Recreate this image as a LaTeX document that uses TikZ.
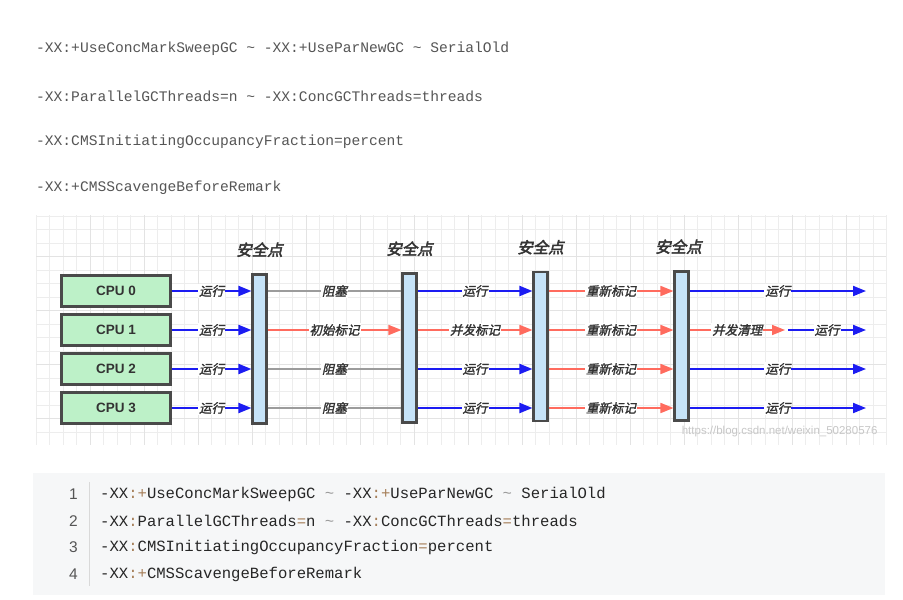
\documentclass[tikz,border=0pt]{standalone}
\usepackage{fontspec}
\setmainfont{Liberation Sans}
\setmonofont{Liberation Mono}
\newfontfamily\cjk[FakeSlant=0.22,FakeBold=1.8]{Noto Sans CJK SC}
\newfontfamily\cjkbold[FakeSlant=0.22,FakeBold=2.8]{Noto Sans CJK SC}
\usetikzlibrary{arrows.meta}
\usetikzlibrary{positioning}

\definecolor{runblue}{HTML}{1C1CF2}
\definecolor{markred}{HTML}{FF6B5E}
\definecolor{blockgray}{HTML}{9C9C9C}
\definecolor{cpugreen}{HTML}{BDF1C8}
\definecolor{barblue}{HTML}{C6E3F8}
\definecolor{edgegray}{HTML}{4A4A4A}
\definecolor{codebg}{HTML}{F6F7F8}
\definecolor{codeop}{HTML}{A67F59}
\definecolor{tildegray}{HTML}{999999}
\definecolor{optgray}{HTML}{555555}

\newcommand{\punc}[1]{\textcolor{codeop}{#1}}
\newcommand{\tld}{\textcolor{tildegray}{\textasciitilde}}

\tikzset{
  cpubox/.style={draw=edgegray,line width=2.3pt,fill=cpugreen,minimum width=109pt,
    minimum height=31pt,font=\bfseries\fontsize{13.5}{14}\selectfont,text=black!80},
  sptbar/.style={draw=edgegray,line width=2.1pt,fill=barblue,minimum width=14pt,
    minimum height=149pt,inner sep=0pt},
  spttitle/.style={font=\cjkbold\fontsize{15.5}{16}\selectfont,text=black!80},
  lbl/.style={font=\cjk\fontsize{12.5}{13}\selectfont,text=black!80,fill=white,inner sep=1pt},
  run/.style={->,runblue,line width=2pt},
  markline/.style={->,markred,line width=1.7pt},
  blocked/.style={blockgray,line width=1.6pt},
  gridline/.style={black!7,line width=0.8pt},
  optline/.style={anchor=west,font=\ttfamily\fontsize{14.6}{15}\selectfont,text=optgray,inner sep=0pt},
  codeline/.style={anchor=west,font=\ttfamily\fontsize{15.6}{16}\selectfont,text=black!85,inner sep=0pt},
  lineno/.style={anchor=east,font=\fontsize{15.5}{16}\selectfont,text=optgray,inner sep=0pt},
}

\begin{document}
\begin{tikzpicture}[x=1pt,y=-1pt,>={Triangle[length=13pt,width=10pt]}]
\useasboundingbox (0,0) rectangle (903,600);
\fill[white] (0,0) rectangle (903,600);
% options above the picture
\node[optline] (opt1) at (36,49) {-XX:+UseConcMarkSweepGC \textasciitilde{} -XX:+UseParNewGC \textasciitilde{} SerialOld};
\node[optline] (opt2) at (36,96) {-XX:ParallelGCThreads=n \textasciitilde{} -XX:ConcGCThreads=threads};
\node[optline] (opt3) at (36,142) {-XX:CMSInitiatingOccupancyFraction=percent};
\node[optline] (opt4) at (36,188) {-XX:+CMSScavengeBeforeRemark};
% grid paper
\foreach \gx in {36,49.5,...,887} \draw[gridline] (\gx,215) -- (\gx,445);
\foreach \gy in {216,229.5,...,445} \draw[gridline] (36,\gy) -- (886,\gy);
\foreach \gx in {90,144,...,887} \draw[black!11,line width=0.8pt] (\gx,215) -- (\gx,445);
\foreach \gy in {256.5,310.5,...,445} \draw[black!11,line width=0.8pt] (36,\gy) -- (886,\gy);
% cpus
\node[cpubox] (cpu0) at (116,291) {CPU 0};
\node[cpubox] (cpu1) at (116,330) {CPU 1};
\node[cpubox] (cpu2) at (116,369) {CPU 2};
\node[cpubox] (cpu3) at (116,408) {CPU 3};
% safepoints
\node[sptbar] (sp1) at (259.5,349) {};
\node[sptbar] (sp2) at (409.5,348) {};
\node[sptbar] (sp3) at (540.5,346.5) {};
\node[sptbar] (sp4) at (681.5,346) {};
\node[spttitle,above=13pt of sp1] (t1) {安全点};
\node[spttitle,above=13pt of sp2] (t2) {安全点};
\node[spttitle,above=13pt of sp3] (t3) {安全点};
\node[spttitle,above=13pt of sp4,xshift=-3pt] (t4) {安全点};
\foreach \i/\y in {0/291,1/330,2/369,3/408} \coordinate (end\i) at (866,\y);
\coordinate (sweepend) at (785,330);
\coordinate (runstart) at (788,330);
% cpu -> first safepoint
\foreach \i in {0,1,2,3}
  \draw[run] (cpu\i) -- (sp1.west |- cpu\i) node[lbl,midway] {运行};
% initial mark
\foreach \i in {0,2,3}
  \draw[blocked] (sp1.east |- cpu\i) -- (sp2.west |- cpu\i) node[lbl,midway] {阻塞};
\draw[markline] (sp1.east |- cpu1) -- (sp2.west |- cpu1) node[lbl,midway] {初始标记};
% concurrent mark
\foreach \i in {0,2,3}
  \draw[run] (sp2.east |- cpu\i) -- (sp3.west |- cpu\i) node[lbl,midway] {运行};
\draw[markline] (sp2.east |- cpu1) -- (sp3.west |- cpu1) node[lbl,midway] {并发标记};
% remark
\foreach \i in {0,1,2,3}
  \draw[markline] (sp3.east |- cpu\i) -- (sp4.west |- cpu\i) node[lbl,midway] {重新标记};
% concurrent sweep
\foreach \i in {0,2,3}
  \draw[run] (sp4.east |- cpu\i) -- (end\i) node[lbl,midway] {运行};
\draw[markline] (sp4.east |- cpu1) -- (sweepend) node[lbl,midway] {并发清理};
\draw[run] (runstart) -- (end1) node[lbl,midway] {运行};
\node[text=black!22,font=\fontsize{11.5}{12}\selectfont,anchor=east] (wm) at (881,432) {https://blog.csdn.net/weixin\_50280576};
% code block
\fill[codebg] (33,473) rectangle (885,595);
\draw[black!15,line width=0.8pt] (89,482) -- (89,586);
\node[lineno] (n1) at (78,494) {1};
\node[lineno] (n2) at (78,521) {2};
\node[lineno] (n3) at (78,547) {3};
\node[lineno] (n4) at (78,574) {4};
\node[codeline] (c1) at (100,494) {-XX\punc{:+}UseConcMarkSweepGC \tld{} -XX\punc{:+}UseParNewGC \tld{} SerialOld};
\node[codeline] (c2) at (100,521) {-XX\punc{:}ParallelGCThreads\punc{=}n \tld{} -XX\punc{:}ConcGCThreads\punc{=}threads};
\node[codeline] (c3) at (100,547) {-XX\punc{:}CMSInitiatingOccupancyFraction\punc{=}percent};
\node[codeline] (c4) at (100,574) {-XX\punc{:+}CMSScavengeBeforeRemark};
\end{tikzpicture}
\end{document}
